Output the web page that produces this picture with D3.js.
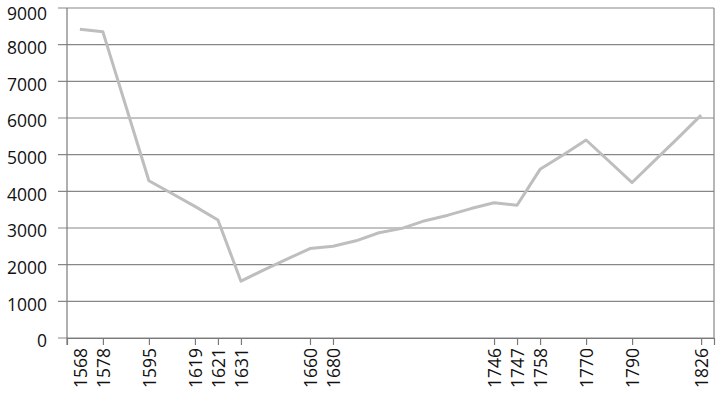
<!DOCTYPE html>
<html>
<head>
<meta charset="utf-8">
<script src="https://cdn.jsdelivr.net/npm/d3@7"></script>
<style>
  body { margin: 0; background: #fff; }
  svg text { font-family: "Open Sans", sans-serif; fill: #111; }
</style>
</head>
<body>
<div id="chart"></div>
<script>
// categories (blank = point without a label)
var years = ["1568","1578","","1595","","1619","1621","1631","","","1660","1680",
             "","","","","","","1746","1747","1758","","1770","","1790","","","1826"];
var population = [8420, 8350, 6320, 4290, 3940, 3590, 3220, 1550, 1860, 2150, 2440, 2500,
                  2650, 2870, 2990, 3200, 3350, 3530, 3690, 3620, 4600, 4990, 5400, 4820,
                  4240, 4850, 5460, 6080];
var yTicks = [0, 1000, 2000, 3000, 4000, 5000, 6000, 7000, 8000, 9000];

var width = 719, height = 397;
var margin = {top: 8, right: 5, bottom: 59, left: 67};
var w = width - margin.left - margin.right,
    h = height - margin.top - margin.bottom;

var svg = d3.select("#chart").append("svg")
            .attr("width", width)
            .attr("height", height);

var g = svg.append("g")
           .attr("transform", "translate(" + margin.left + "," + margin.top + ")");

var x = d3.scalePoint()
          .domain(d3.range(years.length))
          .range([0, w])
          .padding(0.56);

var y = d3.scaleLinear()
          .domain([0, 9000])
          .range([h, 0]);

// gridlines
g.selectAll("line.grid")
  .data(yTicks)
  .enter().append("line")
  .attr("class", "grid")
  .attr("x1", -9)
  .attr("x2", w)
  .attr("y1", function (d) { return y(d); })
  .attr("y2", function (d) { return y(d); })
  .attr("stroke", "#878787")
  .attr("stroke-width", 1.2);

// y labels (top one pushed down a little so it stays inside the picture)
g.selectAll("text.ylab")
  .data(yTicks)
  .enter().append("text")
  .attr("class", "ylab")
  .attr("x", -20)
  .attr("y", function (d) { return Math.max(y(d) + 9.3, 11.5); })
  .attr("text-anchor", "end")
  .attr("font-size", "17.5px")
  .text(function (d) { return d; });

// left axis and right border
g.append("line")
  .attr("x1", 0).attr("x2", 0)
  .attr("y1", 0).attr("y2", h + 7)
  .attr("stroke", "#7a7a7a")
  .attr("stroke-width", 1.2);

g.append("line")
  .attr("x1", w).attr("x2", w)
  .attr("y1", 0).attr("y2", h)
  .attr("stroke", "#878787")
  .attr("stroke-width", 1.2);

// x axis
var labelled = d3.range(years.length).filter(function (i) { return years[i] !== ""; });

var xAxis = g.append("g")
  .attr("transform", "translate(0," + h + ")")
  .call(d3.axisBottom(x)
          .tickValues(labelled)
          .tickSize(7)
          .tickFormat(function (i) { return years[i]; }));

xAxis.select(".domain").attr("stroke", "#7a7a7a").attr("stroke-width", 1.2);
xAxis.selectAll(".tick line").attr("stroke", "#7a7a7a").attr("stroke-width", 1.2);
// first tick mark sits on the y axis line in the original
xAxis.selectAll(".tick line").filter(function (i) { return i === 0; }).remove();
xAxis.selectAll(".tick text")
  .attr("font-size", "17.5px")
  .attr("font-family", "Open Sans, sans-serif")
  .attr("fill", "#111")
  .attr("transform", "rotate(-90)")
  .attr("text-anchor", "end")
  .attr("x", -10)
  .attr("y", 0)
  .attr("dy", "0.36em");

// series
var line = d3.line()
  .x(function (d, i) { return x(i); })
  .y(function (d) { return y(d); });

g.append("path")
  .datum(population)
  .attr("d", line)
  .attr("fill", "none")
  .attr("stroke", "#bebebe")
  .attr("stroke-width", 3)
  .attr("stroke-linejoin", "round");
</script>
</body>
</html>
